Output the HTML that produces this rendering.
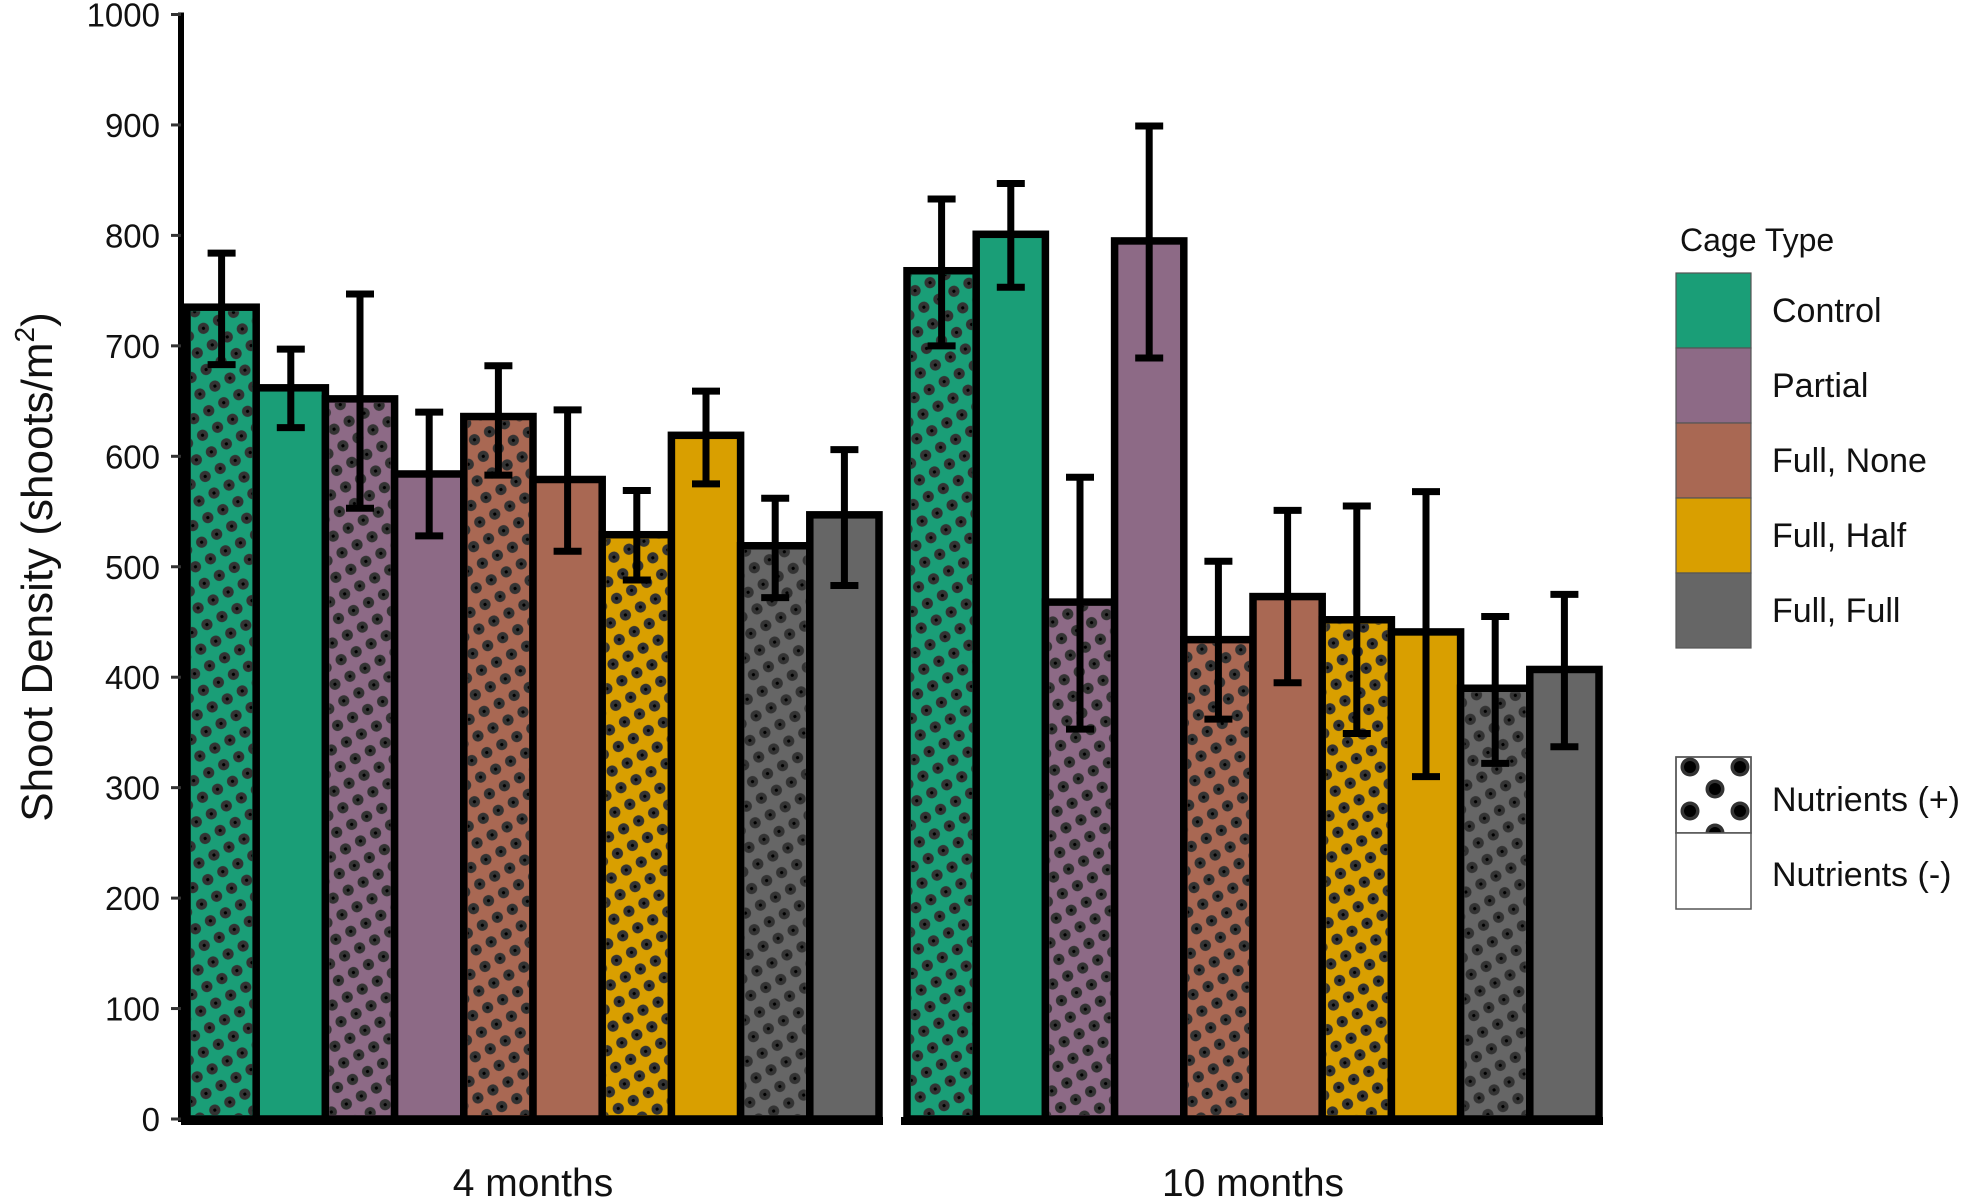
<!DOCTYPE html>
<html><head><meta charset="utf-8"><style>
body{margin:0;background:#fff}
svg{display:block;font-family:"Liberation Sans",sans-serif}
</style></head><body>
<svg id="chart" width="1969" height="1199" viewBox="0 0 1969 1199" xmlns="http://www.w3.org/2000/svg">
<defs>
<pattern id="dots" patternUnits="userSpaceOnUse" width="17" height="18.8" patternTransform="rotate(-28)">
<circle cx="8.5" cy="9.4" r="5.6" fill="#333"/><circle cx="8.5" cy="9.4" r="1.6" fill="#000"/>
</pattern>
<pattern id="dotsBig" patternUnits="userSpaceOnUse" width="50" height="44" patternTransform="translate(1676,757)">
<circle cx="14" cy="10" r="9.5" fill="#333"/><circle cx="14" cy="10" r="6" fill="#000"/>
<circle cx="39" cy="32" r="9.5" fill="#333"/><circle cx="39" cy="32" r="6" fill="#000"/>
</pattern>
</defs>
<g id="plot"></g>
<g>
<text x="1680" y="251" font-size="32" fill="#111">Cage Type</text>
<g id="legend-items"></g>
<rect x="1676" y="757" width="75" height="76" fill="#fff" stroke="#555" stroke-width="1.5"/>
<rect x="1676" y="757" width="75" height="76" fill="url(#dotsBig)" stroke="#555" stroke-width="1.5"/>
<rect x="1676" y="833" width="75" height="76" fill="#fff" stroke="#555" stroke-width="1.5"/>
<text x="1772" y="811" font-size="34" fill="#111">Nutrients (+)</text>
<text x="1772" y="886" font-size="34" fill="#111">Nutrients (-)</text>
</g>
<text transform="translate(52,567) rotate(-90)" text-anchor="middle" font-size="44" fill="#111">Shoot Density (shoots/m<tspan font-size="28" dy="-18">2</tspan><tspan dy="18">)</tspan></text>
</svg>
<script>
const groups = ["4 months", "10 months"];
const cageTypes = ["Control", "Partial", "Full, None", "Full, Half", "Full, Full"];
const means4 = [735, 662, 652, 584, 636, 579, 529, 619, 519, 547];
const lo4 = [683, 626, 553, 528, 583, 514, 488, 575, 472, 483];
const hi4 = [784, 697, 747, 640, 682, 642, 569, 659, 562, 606];
const means10 = [768, 801, 468, 795, 434, 473, 452, 441, 390, 407];
const lo10 = [700, 753, 353, 689, 362, 395, 349, 310, 322, 337];
const hi10 = [833, 847, 581, 899, 505, 551, 555, 568, 455, 475];
const yTicks = [0, 100, 200, 300, 400, 500, 600, 700, 800, 900, 1000];

const colors = ["#1a9e77", "#8d6a86", "#a96853", "#d99f00", "#666666"];
const NS = "http://www.w3.org/2000/svg";
const plot = document.getElementById('plot');
function y(v){ return 1119 - v * 1.1045; }
const panelX = [187, 907];
const bw = 69.2;
function mk(tag, attrs, parent){ const e = document.createElementNS(NS, tag); for (const k in attrs) e.setAttribute(k, attrs[k]); (parent||plot).appendChild(e); return e; }

const ax = mk('line', {x1:181, x2:181, y1:y(1000)-2, y2:y(0)+3, stroke:'#000', 'stroke-width':6});


yTicks.forEach(t => {
  const tk = mk('line', {x1:171, x2:181, y1:y(t), y2:y(t), stroke:'#333', 'stroke-width':3});
  
  
  const tl = mk('text', {x:160, y:y(t)+12, 'text-anchor':'end', 'font-size':33, fill:'#111'});
  tl.textContent = t;
  
  
});

const series = [[means4, lo4, hi4], [means10, lo10, hi10]];
series.forEach((s, g) => {
  const [m, lo, hi] = s;
  const x0 = panelX[g];
  m.forEach((v, i) => {
    const cidx = Math.floor(i / 2);
    const nut = i % 2 === 0;
    const x = x0 + i * bw;
    const r = mk('rect', {x:x, y:y(v), width:bw, height:y(0)-y(v), fill:colors[cidx], stroke:'#000', 'stroke-width':7.5});
    
    
    if (nut) {
      const p = mk('rect', {x:x+4, y:y(v)+4, width:bw-8, height:y(0)-y(v)-8, fill:'url(#dots)'});
      
      
    }
  });
  m.forEach((v, i) => {
    const cx = x0 + i * bw + bw / 2;
    const e = mk('path', {d:`M${cx-14},${y(hi[i])}H${cx+14}M${cx},${y(hi[i])}V${y(lo[i])}M${cx-14},${y(lo[i])}H${cx+14}`, stroke:'#000', 'stroke-width':7, fill:'none'});
    
    
  });
  const base = mk('line', {x1:x0-6, x2:x0+10*bw+4, y1:y(0)+2, y2:y(0)+2, stroke:'#000', 'stroke-width':8});
  
  
  const gl = mk('text', {x:x0+5*bw, y:1196, 'text-anchor':'middle', 'font-size':39, fill:'#111'});
  gl.textContent = groups[g];
  
  
});

const li = document.getElementById('legend-items');
cageTypes.forEach((c, i) => {
  const r = mk('rect', {x:1676, y:273+i*75, width:75, height:75, fill:colors[i], stroke:'#555', 'stroke-width':1.2}, li);
  
  
  const t = mk('text', {x:1772, y:273+i*75+49, 'font-size':34, fill:'#111'}, li);
  t.textContent = c;
  
  
});
</script>
</body></html>
